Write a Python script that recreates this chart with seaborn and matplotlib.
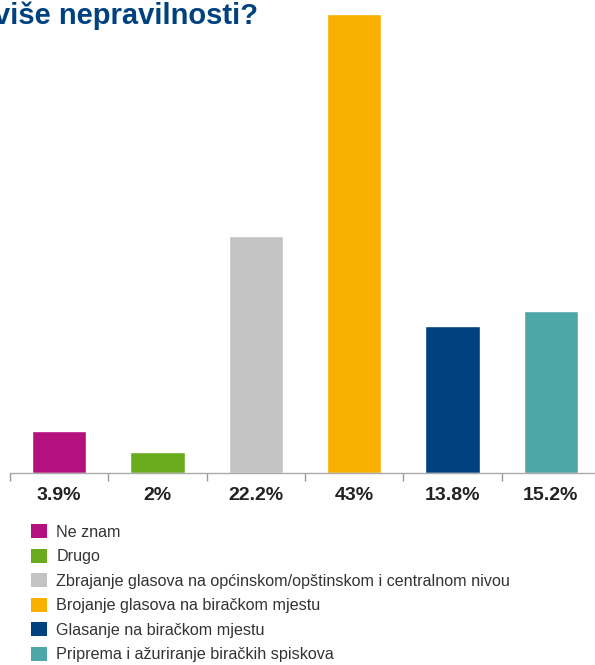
import matplotlib
matplotlib.use("Agg")
import matplotlib.pyplot as plt
from matplotlib.patches import Patch
import seaborn as sns

# Data
categories = [
    "Ne znam",
    "Drugo",
    "Zbrajanje glasova na općinskom/opštinskom i centralnom nivou",
    "Brojanje glasova na biračkom mjestu",
    "Glasanje na biračkom mjestu",
    "Priprema i ažuriranje biračkih spiskova",
]
values = [3.9, 2, 22.2, 43, 13.8, 15.2]
value_labels = ["3.9%", "2%", "22.2%", "43%", "13.8%", "15.2%"]
colors = ["#b5117e", "#6aab1e", "#c3c3c3", "#f9b000", "#00427f", "#4ca7a6"]

sns.set_style("white")
plt.rcParams["font.family"] = ["Liberation Sans", "DejaVu Sans"]

fig = plt.figure(figsize=(5.95, 6.65), dpi=100)
ax = fig.add_axes([10 / 595, 192 / 665, 590 / 595, 459 / 665])

sns.barplot(x=categories, y=values, hue=categories, palette=colors,
            width=0.55, legend=False, ax=ax, saturation=1)

ax.set_ylim(0, 43)
ax.set_xlim(-0.5, 5.5)
ax.set_xticks(range(len(categories)), value_labels, fontsize=14,
              fontweight="bold", color="#222222")
ax.tick_params(axis="x", which="major", length=0, pad=10)
ax.set_xticks([i - 0.5 for i in range(len(categories) + 1)], minor=True)
ax.tick_params(axis="x", which="minor", bottom=True, length=6, width=1,
               color="#999999")
ax.set_yticks([])
ax.set_xlabel("")
ax.set_ylabel("")
for side in ["top", "right", "left"]:
    ax.spines[side].set_visible(False)
ax.spines["bottom"].set_color("#aaaaaa")
ax.spines["bottom"].set_linewidth(1)

# Title (cut off on the left, as in the source)
fig.text(258 / 595, 1 - 1 / 665, "više nepravilnosti?", ha="right", va="top",
         fontsize=21, fontweight="bold", color="#00427f")

handles = [Patch(facecolor=c, edgecolor="none") for c in colors]
fig.legend(handles, categories, loc="upper left",
           bbox_to_anchor=(25 / 595, 1 - 518 / 665), frameon=False,
           fontsize=11.6, handlelength=0.95, handleheight=0.95,
           handletextpad=0.6, labelspacing=0.56, labelcolor="#333333",
           borderaxespad=0)

fig.savefig("out.png", dpi=100)
